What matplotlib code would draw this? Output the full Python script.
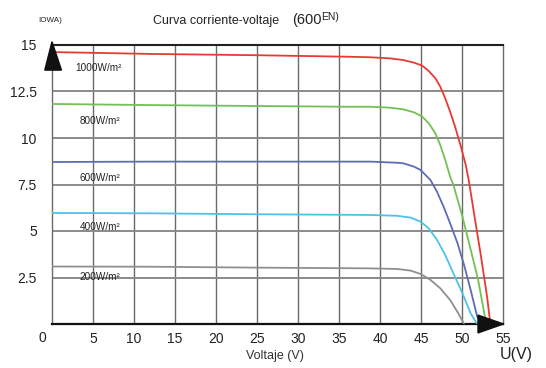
import matplotlib
matplotlib.use("Agg")
import matplotlib.pyplot as plt
from matplotlib.patches import Polygon

plt.rcParams['font.family'] = ['Liberation Sans', 'DejaVu Sans']

# ---- data ----
v_1000 = [0, 12, 25, 36, 38.8, 41.2, 42.8, 44.1, 45.1, 45.9, 46.7, 47.3, 47.9, 48.5, 49.1,
          49.8, 50.4, 50.8, 51.5, 52.2, 53.0, 53.4]
i_1000 = [14.62, 14.52, 14.45, 14.37, 14.34, 14.28, 14.19, 14.05, 13.89, 13.6, 13.21, 12.76,
          12.13, 11.41, 10.61, 9.55, 8.55, 7.65, 5.7, 3.8, 1.47, 0.0]

v_800 = [0, 12, 25, 36, 38.8, 41.2, 42.8, 44.1, 45.1, 45.9, 46.7, 47.3, 47.9, 48.5, 48.9,
         50.0, 51.0, 51.9, 52.9]
i_800 = [11.83, 11.77, 11.72, 11.68, 11.68, 11.63, 11.54, 11.38, 11.15, 10.79, 10.25, 9.62,
         8.82, 7.92, 7.47, 5.77, 4.0, 2.4, 0.0]

v_600 = [0, 12, 25, 36, 38.8, 42.0, 42.8, 44.1, 44.9, 45.3, 46.1, 46.9, 47.7, 48.5, 49.4,
         50.2, 51.0, 51.8, 52.4]
i_600 = [8.71, 8.73, 8.73, 8.73, 8.73, 8.67, 8.64, 8.46, 8.28, 8.10, 7.74, 7.11, 6.31, 5.41,
         4.34, 3.17, 1.83, 0.39, 0.0]

v_400 = [0, 12, 25, 36, 38.8, 42.0, 43.7, 44.9, 45.9, 46.9, 47.9, 48.9, 50.0, 51.0, 51.8]
i_400 = [5.97, 5.95, 5.9, 5.87, 5.86, 5.82, 5.72, 5.50, 5.14, 4.52, 3.71, 2.72, 1.65, 0.57, 0.0]

v_200 = [0, 12, 25, 36, 38.8, 42.0, 43.7, 44.9, 46.1, 47.3, 48.5, 49.5, 50.2]
i_200 = [3.09, 3.08, 3.03, 3.0, 2.99, 2.96, 2.87, 2.69, 2.37, 1.92, 1.29, 0.57, 0.0]

series_labels = ['1000W/m²', '800W/m²', '600W/m²', '400W/m²', '200W/m²']
series_colors = ['#e83a35', '#72c152', '#5d6db5', '#4cc3e6', '#8f8f8f']
label_pos = [(2.8, 13.76), (3.4, 10.91), (3.4, 7.85), (3.4, 5.22), (3.4, 2.53)]

x_ticks = [5, 10, 15, 20, 25, 30, 35, 40, 45, 50, 55]
y_ticks = [2.5, 5, 7.5, 10, 12.5, 15]
y_tick_labels = ['2.5', '5', '7.5', '10', '12.5', '15']

# ---- figure ----
fig = plt.figure(figsize=(5.46, 3.68), dpi=100)
ax = fig.add_axes([52/546, 1-324/368, 451.5/546, 279/368])
ax.set_xlim(0, 55)
ax.set_ylim(0, 15)

for x in x_ticks[:-1]:
    ax.axvline(x, color='#6a6a6a', lw=1.0, zorder=1)
for y in y_ticks[:-1]:
    ax.axhline(y, color='#8a8a8a', lw=1.4, zorder=1)

for s in ['left', 'right']:
    ax.spines[s].set_color('#6a6a6a')
    ax.spines[s].set_linewidth(1.0)
ax.spines['top'].set_color('#222222')
ax.spines['top'].set_linewidth(1.5)
ax.spines['bottom'].set_color('#111111')
ax.spines['bottom'].set_linewidth(1.6)

series = [(v_1000, i_1000), (v_800, i_800), (v_600, i_600), (v_400, i_400), (v_200, i_200)]
for (v, i), c, lab, (lx, ly) in zip(series, series_colors, series_labels, label_pos):
    ax.plot(v, i, color=c, lw=1.3, zorder=3, solid_joinstyle='round')
    ax.text(lx, ly, lab, fontsize=7.2, color='#222222', ha='left', va='center', zorder=4)

ax.set_xticks(x_ticks)
ax.set_xticklabels([str(x) for x in x_ticks])
ax.set_yticks(y_ticks)
ax.set_yticklabels(y_tick_labels)
ax.tick_params(axis='both', length=0, labelsize=10, colors='#222222')
ax.tick_params(axis='x', pad=6)
ax.tick_params(axis='y', pad=11)
ax.text(-0.022, -0.05, '0', transform=ax.transAxes, fontsize=10, ha='center', va='center', color='#222222')

# arrows
up = Polygon([(0.0, 1.012), (-0.016, 0.91), (0.021, 0.91)], closed=True,
             transform=ax.transAxes, color='#111111', clip_on=False, zorder=5)
right = Polygon([(1.0, 0.0), (0.9435, 0.032), (0.9435, -0.032)], closed=True,
                transform=ax.transAxes, color='#111111', clip_on=False, zorder=5)
ax.add_patch(up)
ax.add_patch(right)

# texts
fig.text(38/546, 1-21/368, 'IOWA)', fontsize=5.8, ha='left', va='center', color='#222222')
fig.text(153/546, 1-21/368, 'Curva corriente-voltaje', fontsize=9, ha='left', va='center', color='#222222')
fig.text(292/546, 1-20/368, '(600', fontsize=10.5, ha='left', va='center', color='#222222')
fig.text(321/546, 1-17/368, 'EN)', fontsize=7.5, ha='left', va='center', color='#222222')
fig.text(275/546, 1-356/368, 'Voltaje (V)', fontsize=9, ha='center', va='center', color='#333333')
fig.text(500/546, 1-355/368, 'U(V)', fontsize=11.5, ha='left', va='center', color='#222222')

fig.savefig('out.png', dpi=100)
